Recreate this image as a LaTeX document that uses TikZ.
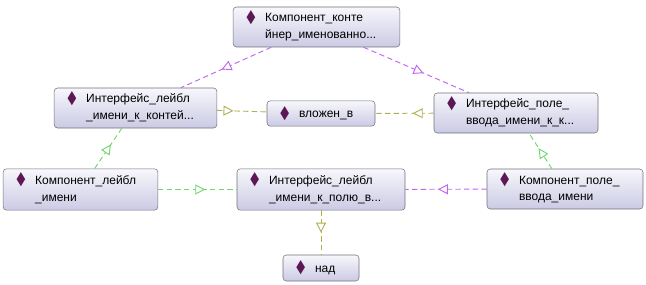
\documentclass[tikz,border=0pt]{standalone}
\usepackage{xcolor}
\usepackage{fontspec}
\setmainfont{Liberation Sans}
\newfontfamily\diafont{DejaVu Sans}
\usetikzlibrary{positioning,arrows.meta,decorations.markings}

\definecolor{clsdraw}{RGB}{112,112,124}
\definecolor{clstop}{RGB}{247,247,252}
\definecolor{clsbot}{RGB}{203,202,228}
\definecolor{diacol}{RGB}{92,24,84}
\definecolor{violetline}{RGB}{192,102,236}
\definecolor{greenline}{RGB}{112,214,112}
\definecolor{oliveline}{RGB}{176,176,82}

\newcommand{\dia}{\makebox[14pt][l]{\textcolor{diacol}{\raisebox{-0.3pt}{\scalebox{0.95}[1.55]{\diafont ◆}}}}}
\newcommand{\twoline}[2]{\dia\begin{tabular}[t]{@{}l@{}}#1\\#2\end{tabular}}

\tikzset{
  cls/.style={draw=clsdraw, rounded corners=2.5pt, top color=clstop, bottom color=clsbot,
    inner xsep=10pt, inner ysep=2pt, align=left, text width=#1, minimum height=30pt,
    font=\fontsize{9}{12.5}\selectfont},
  rel/.style={dash pattern=on 4pt off 2.5pt, line width=0.7pt},
  midarrow/.style={postaction={decorate}, decoration={markings,
    mark=at position #1 with {\arrow{Triangle[fill=white,length=7.5pt,width=7.5pt]}}}}
}

\begin{document}
\begin{tikzpicture}[x=0.75pt,y=-0.75pt]
    \useasboundingbox (0,0) rectangle (646,285);

    % Component and interface nodes
    \node[cls=105pt] (kont) at (316.5,27) {\twoline{Компонент\_конте}{йнер\_именованно...}};
    \node[cls=102pt] (ilk) at (135.5,108) {\twoline{Интерфейс\_лейбл}{\_имени\_к\_контей...}};
    \node[cls=61pt, minimum height=19pt] (vlozhen) at (321,113.5) {\dia вложен\_в};
    \node[cls=103pt] (ipv) at (516,113) {\twoline{Интерфейс\_поле\_}{ввода\_имени\_к\_к...}};
    \node[cls=96pt, minimum height=31pt] (klm) at (80.5,189.5) {\twoline{Компонент\_лейбл}{\_имени}};
    \node[cls=106pt, minimum height=31pt] (ilp) at (321,189.5) {\twoline{Интерфейс\_лейбл}{\_имени\_к\_полю\_в...}};
    \node[cls=97pt] (kpv) at (565,189) {\twoline{Компонент\_поле\_}{ввода\_имени}};
    \node[cls=37pt, minimum height=19.5pt] (nad) at (321,268) {\dia над};

    % Relations
    \draw[rel, violetline, midarrow=0.55] (kont) -- (ilk);
    \draw[rel, violetline, midarrow=0.57] (kont) -- (ipv);
    \draw[rel, oliveline, midarrow=0.33] (ilk) -- (vlozhen);
    \draw[rel, oliveline, midarrow=0.36] (ipv) -- (vlozhen);
    \draw[rel, greenline, midarrow=0.6] (klm) -- (ilk);
    \draw[rel, greenline, midarrow=0.58] (kpv) -- (ipv);
    \draw[rel, greenline, midarrow=0.6] (klm) -- (ilp);
    \draw[rel, violetline, midarrow=0.6] (kpv) -- (ilp);
    \draw[rel, oliveline, midarrow=0.5] (ilp) -- (nad);
\end{tikzpicture}
\end{document}
